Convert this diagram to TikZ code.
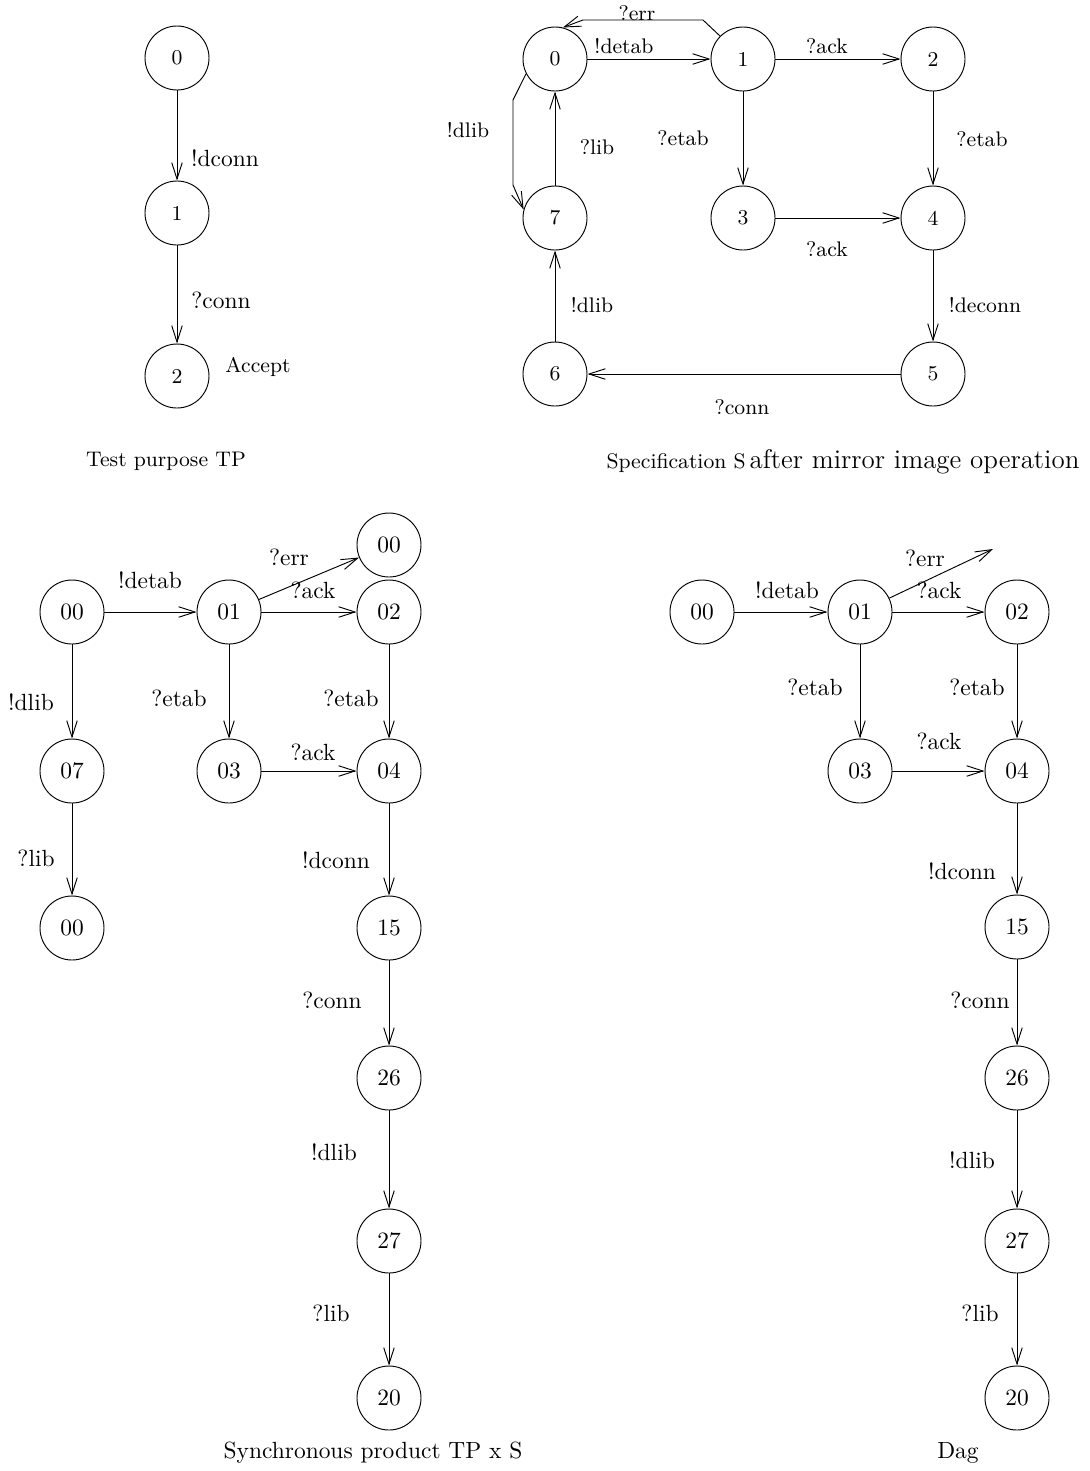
\documentclass[tikz,border=0pt]{standalone}
\usetikzlibrary{arrows.meta}

\tikzset{
  st/.style={circle, draw, minimum size=0.96cm, inner sep=0pt},
  tr/.style={-{Straight Barb[length=7pt,width=4.5pt]}},
  lbl/.style={inner sep=1pt}
}

\begin{document}
\begin{tikzpicture}[x=0.015cm, y=-0.015cm]
    % Page frame
    \useasboundingbox (0,0) rectangle (1090,1471);

    % Test purpose TP
    \node[st, font=\small] (tp0) at (177,58) {0};
    \node[st, font=\small] (tp1) at (177,213) {1};
    \node[st, font=\small] (tp2) at (177,376) {2};
    \draw[tr] (tp0) -- (tp1);
    \draw[tr] (tp1) -- (tp2);
    \node[lbl] (tpa) at (225,158) {!dconn};
    \node[lbl] (tpb) at (221,300) {?conn};
    \node[lbl, font=\small] (tpacc) at (258,367) {Accept};
    \node[font=\small] (tpcap) at (166,461) {Test purpose TP};

    % Specification S
    \node[st, font=\small] (s0) at (555,59) {0};
    \node[st, font=\small] (s1) at (743,59) {1};
    \node[st, font=\small] (s2) at (933,59) {2};
    \node[st, font=\small] (s7) at (555,218) {7};
    \node[st, font=\small] (s3) at (743,218) {3};
    \node[st, font=\small] (s4) at (933,218) {4};
    \node[st, font=\small] (s6) at (555,374) {6};
    \node[st, font=\small] (s5) at (933,374) {5};

    \draw[tr] (s0) -- (s1);
    \draw[tr] (s1) -- (s2);
    \draw[tr] (s1) -- (s3);
    \draw[tr] (s2) -- (s4);
    \draw[tr] (s3) -- (s4);
    \draw[tr] (s4) -- (s5);
    \draw[tr] (s5) -- (s6);
    \draw[tr] (s6) -- (s7);
    \draw[tr] (s7) -- (s0);
    \draw[tr] (s1.135) -- (703,20) -- (583,20) -- (s0.76);
    \draw[tr] (s0.207) -- (513,100) -- (513,185) -- (s7.165);

    \begin{scope}[every node/.append style={lbl, font=\small}]
    \node (sa) at (624,46) {!detab};
    \node (sb) at (637,13) {?err};
    \node (sc) at (827,46) {?ack};
    \node (sd) at (468,130) {!dlib};
    \node (se) at (597,147) {?lib};
    \node (sf) at (683,138) {?etab};
    \node (sg) at (982,139) {?etab};
    \node (sh) at (827,249) {?ack};
    \node (si) at (985,305) {!deconn};
    \node (sj) at (592,305) {!dlib};
    \node (sk) at (742,407) {?conn};
    \end{scope}
    \node (scap) at (843,462) {{\small Specification S}\,{\fontsize{11.5}{14}\selectfont after mirror image operation}};

    % Synchronous product TP x S
    \node[st] (p00) at (72,612) {00};
    \node[st] (p01) at (229,612) {01};
    \node[st] (p02) at (389,612) {02};
    \node[st] (p00e) at (389,545) {00};
    \node[st] (p07) at (72,771) {07};
    \node[st] (p03) at (229,771) {03};
    \node[st] (p04) at (389,771) {04};
    \node[st] (p00l) at (72,928) {00};
    \node[st] (p15) at (389,928) {15};
    \node[st] (p26) at (389,1078) {26};
    \node[st] (p27) at (389,1241) {27};
    \node[st] (p20) at (389,1398) {20};

    \draw[tr] (p00) -- (p01);
    \draw[tr] (p01) -- (p02);
    \draw[tr] (p01) -- (p00e);
    \draw[tr] (p00) -- (p07);
    \draw[tr] (p07) -- (p00l);
    \draw[tr] (p01) -- (p03);
    \draw[tr] (p02) -- (p04);
    \draw[tr] (p03) -- (p04);
    \draw[tr] (p04) -- (p15);
    \draw[tr] (p15) -- (p26);
    \draw[tr] (p26) -- (p27);
    \draw[tr] (p27) -- (p20);

    \begin{scope}[every node/.append style={lbl}]
    \node (pa) at (150,580) {!detab};
    \node (pb) at (289,557) {?err};
    \node (pc) at (313,590) {?ack};
    \node (pd) at (31,702) {!dlib};
    \node (pe) at (179,698) {?etab};
    \node (pf) at (351,698) {?etab};
    \node (pg) at (313,752) {?ack};
    \node (ph) at (36,858) {?lib};
    \node (pi) at (336,860) {!dconn};
    \node (pj) at (332,1000) {?conn};
    \node (pk) at (334,1152) {!dlib};
    \node (pl) at (331,1313) {?lib};
    \end{scope}
    \node (pcap) at (373,1453) {Synchronous product TP x S};

    % Dag
    \node[st] (d00) at (702,612) {00};
    \node[st] (d01) at (860,612) {01};
    \node[st] (d02) at (1017,612) {02};
    \node[st] (d03) at (860,771) {03};
    \node[st] (d04) at (1017,771) {04};
    \node[st] (d15) at (1017,927) {15};
    \node[st] (d26) at (1017,1078) {26};
    \node[st] (d27) at (1017,1241) {27};
    \node[st] (d20) at (1017,1398) {20};
    \coordinate (derr) at (993,549);

    \draw[tr] (d00) -- (d01);
    \draw[tr] (d01) -- (d02);
    \draw[tr] (d01) -- (derr);
    \draw[tr] (d01) -- (d03);
    \draw[tr] (d02) -- (d04);
    \draw[tr] (d03) -- (d04);
    \draw[tr] (d04) -- (d15);
    \draw[tr] (d15) -- (d26);
    \draw[tr] (d26) -- (d27);
    \draw[tr] (d27) -- (d20);

    \begin{scope}[every node/.append style={lbl}]
    \node (da) at (787,590) {!detab};
    \node (db) at (925,558) {?err};
    \node (dc) at (939,590) {?ack};
    \node (dd) at (815,687) {?etab};
    \node (de) at (977,687) {?etab};
    \node (df) at (939,741) {?ack};
    \node (dg) at (962,871) {!dconn};
    \node (dh) at (980,1000) {?conn};
    \node (di) at (972,1160) {!dlib};
    \node (dj) at (980,1313) {?lib};
    \end{scope}
    \node (dcap) at (958,1453) {Dag};
\end{tikzpicture}
\end{document}
